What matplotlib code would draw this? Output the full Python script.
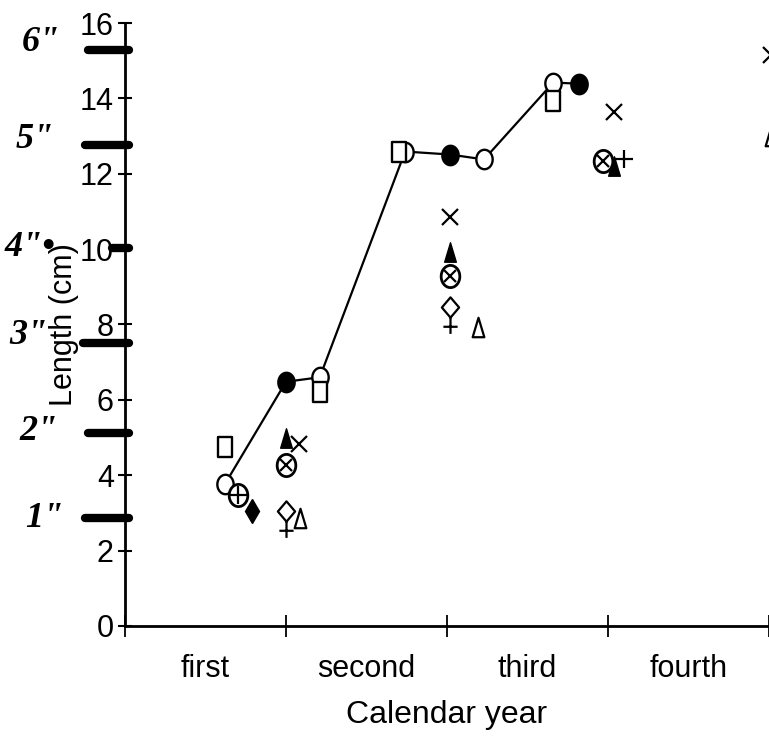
import matplotlib
matplotlib.use("Agg")
import matplotlib.pyplot as plt
from matplotlib.path import Path
from matplotlib.transforms import blended_transform_factory
import numpy as np

plt.rcParams['font.family'] = ['Liberation Sans Narrow', 'Liberation Sans', 'DejaVu Sans']

# ---- data ----
year_labels = ["first", "second", "third", "fourth"]
year_label_pos = [0.5, 1.5, 2.5, 3.5]
year_ticks = [0, 1, 2, 3, 4]
y_ticks = [0, 2, 4, 6, 8, 10, 12, 14, 16]

line_x = [0.62, 1.00, 1.21, 1.74, 2.02, 2.23, 2.66, 2.82]
line_y = [3.76, 6.48, 6.60, 12.59, 12.51, 12.38, 14.42, 14.39]
line_filled = [False, True, False, False, True, False, False, True]

square_x = [0.62, 1.21, 1.70, 2.66]
square_y = [4.76, 6.22, 12.57, 13.92]

cross_x = [1.08, 2.02, 3.04, 4.01]
cross_y = [4.84, 10.85, 13.65, 15.15]

ftri_x = [1.00, 2.02, 3.04]
ftri_y = [5.00, 9.92, 12.20]

otimes_x = [1.00, 2.02, 2.97]
otimes_y = [4.26, 9.29, 12.33]

oplus_x = [0.70]
oplus_y = [3.47]

plus_x = [3.10]
plus_y = [12.38]

fdiam_x = [0.79]
fdiam_y = [3.04]

female_x = [1.00, 2.02]
female_y = [3.05, 8.47]

otri_x = [1.09, 2.19, 4.01]
otri_y = [2.86, 7.94, 13.00]

inch_labels = ['6"', '5"', '4"•', '3"', '2"', '1"']
inch_cm = [15.28, 12.76, 10.03, 7.51, 5.12, 2.86]

# ---- style helpers ----
inch_bar_start = [-0.058, -0.062, -0.02, -0.065, -0.058, -0.062]
inch_label_x = [-0.13, -0.14, -0.147, -0.15, -0.135, -0.125]
inch_label_dy = [0.2, 0.15, 0.0, 0.2, 0.05, 0.0]

fig = plt.figure(figsize=(7.69, 7.38), dpi=100)
ax = fig.add_axes([0.1625, 0.1518, 0.8375, 0.817])

# female symbol marker
fem_verts = [(0, 1), (0.85, 0), (0, -1), (-0.85, 0), (0, 1),
             (0, -1), (0, -2.6),
             (-0.7, -1.9), (0.7, -1.9)]
fem_codes = [Path.MOVETO, Path.LINETO, Path.LINETO, Path.LINETO, Path.CLOSEPOLY,
             Path.MOVETO, Path.LINETO,
             Path.MOVETO, Path.LINETO]
female_marker = Path(fem_verts, fem_codes)

# tall rectangle marker
rect_marker = Path([(-0.38, -0.5), (0.38, -0.5), (0.38, 0.5), (-0.38, 0.5), (-0.38, -0.5)],
                   [Path.MOVETO, Path.LINETO, Path.LINETO, Path.LINETO, Path.CLOSEPOLY])
# tall ellipse-ish circle marker
t = np.linspace(0, 2 * np.pi, 40)
ell_marker = Path(np.column_stack([0.42 * np.cos(t), 0.5 * np.sin(t)]), closed=True)
# tall triangle
tri_marker = Path([(0, 0.5), (0.3, -0.5), (-0.3, -0.5), (0, 0.5)],
                  [Path.MOVETO, Path.LINETO, Path.LINETO, Path.CLOSEPOLY])

kw = dict(linestyle='none', color='black', clip_on=False, zorder=3)

# connected series
ax.plot(line_x, line_y, '-', color='black', lw=1.6, zorder=2)
for x, y, f in zip(line_x, line_y, line_filled):
    ax.plot([x], [y], marker=ell_marker, markersize=14,
            markerfacecolor='black' if f else 'white',
            markeredgecolor='black', markeredgewidth=1.7, **kw)

ax.plot(square_x, square_y, marker=rect_marker, markersize=14, markerfacecolor='white',
        markeredgewidth=1.7, **kw)
ax.plot(cross_x, cross_y, marker='x', markersize=11, markeredgewidth=1.6, **kw)
ax.plot(ftri_x, ftri_y, marker=tri_marker, markersize=14, **kw)
ax.plot(otimes_x, otimes_y, marker=ell_marker, markersize=16, markerfacecolor='white',
        markeredgewidth=2.0, **kw)
ax.plot(otimes_x, otimes_y, marker='x', markersize=8, markeredgewidth=1.6, **kw)
ax.plot(oplus_x, oplus_y, marker=ell_marker, markersize=16, markerfacecolor='white',
        markeredgewidth=2.0, **kw)
ax.plot(oplus_x, oplus_y, marker='+', markersize=13, markeredgewidth=1.6, **kw)
ax.plot(plus_x, plus_y, marker='+', markersize=13, markeredgewidth=1.6, **kw)
ax.plot(fdiam_x, fdiam_y, marker='d', markersize=12, **kw)
ax.plot(female_x, female_y, marker=female_marker, markersize=38, markerfacecolor='none',
        markeredgewidth=1.6, **kw)
ax.plot(otri_x, otri_y, marker=tri_marker, markersize=14, markerfacecolor='white',
        markeredgewidth=1.6, **kw)

# axes
ax.set_xlim(0, 4)
ax.set_ylim(0, 16)
for s in ['top', 'right']:
    ax.spines[s].set_visible(False)
for s in ['left', 'bottom']:
    ax.spines[s].set_linewidth(2)

ax.set_yticks(y_ticks)
ax.set_yticklabels([str(v) for v in y_ticks])
ax.tick_params(axis='y', direction='inout', length=10, width=1.5, labelsize=22, pad=3)

ax.set_xticks(year_ticks)
ax.set_xticklabels([''] * len(year_ticks))
ax.tick_params(axis='x', which='major', direction='inout', length=16, width=1.3)
ax.set_xticks(year_label_pos, minor=True)
ax.set_xticklabels(year_labels, minor=True)
ax.tick_params(axis='x', which='minor', length=0, labelsize=22, pad=20)

ax.set_xlabel('Calendar year', fontsize=23, labelpad=12)
ax.set_ylabel('Length (cm)', fontsize=22)
ax.yaxis.set_label_coords(-0.071, 0.5)

# handwritten inch marks
tr = blended_transform_factory(ax.transAxes, ax.transData)
for lab, v, x0, lx, dy in zip(inch_labels, inch_cm, inch_bar_start, inch_label_x, inch_label_dy):
    ax.plot([x0, 0.006], [v, v], color='black', lw=6, solid_capstyle='round',
            transform=tr, clip_on=False, zorder=4)
    ax.text(lx, v + dy, lab, transform=tr, fontsize=26, fontweight='bold',
            fontstyle='italic', family=['Liberation Serif', 'DejaVu Serif'],
            ha='center', va='center')

fig.savefig('out.png', dpi=100)
